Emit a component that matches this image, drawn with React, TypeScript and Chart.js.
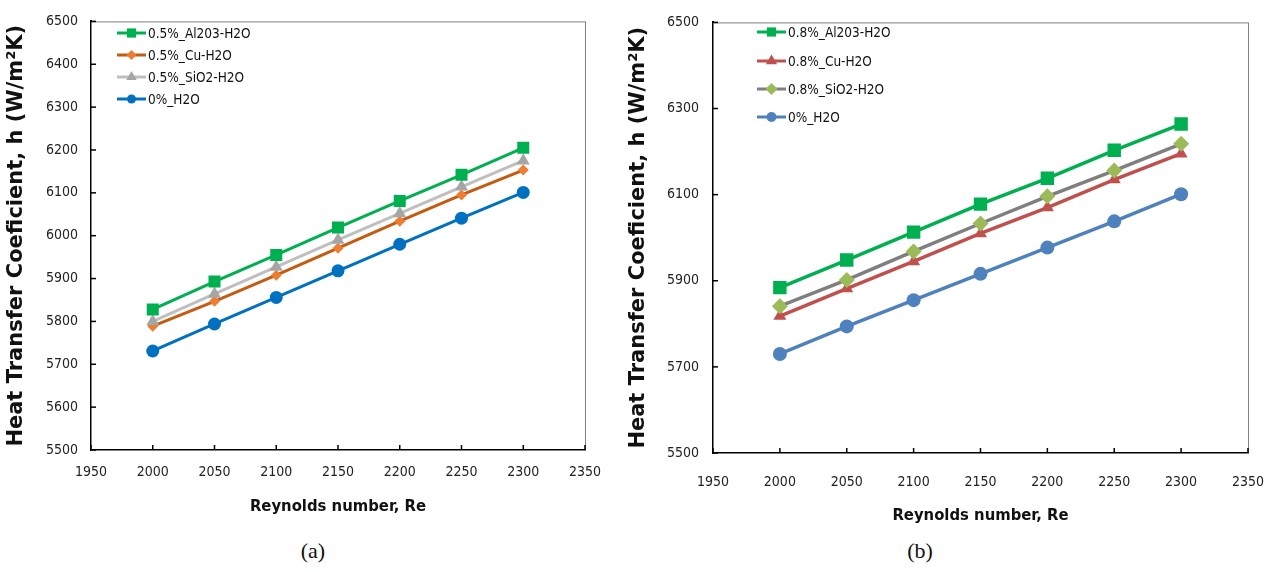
import React, { useEffect, useRef } from 'react';
import { Chart, registerables } from 'chart.js';

Chart.register(...registerables);

const reynolds = [2000, 2050, 2100, 2150, 2200, 2250, 2300];

const leftAl2O3 = [5828, 5893, 5955, 6019, 6081, 6142, 6205];
const leftCu = [5789, 5847, 5908, 5971, 6034, 6095, 6153];
const leftSiO2 = [5800, 5864, 5927, 5990, 6052, 6114, 6175];
const leftWater = [5731, 5794, 5856, 5918, 5980, 6041, 6101];

const rightAl2O3 = [5884, 5948, 6013, 6078, 6138, 6203, 6264];
const rightCu = [5818, 5882, 5945, 6010, 6070, 6135, 6195];
const rightSiO2 = [5841, 5902, 5968, 6033, 6096, 6156, 6218];
const rightWater = [5730, 5794, 5855, 5916, 5977, 6038, 6101];

const leftLabels = ['0.5%_Al203-H2O', '0.5%_Cu-H2O', '0.5%_SiO2-H2O', '0%_H2O'];
const rightLabels = ['0.8%_Al203-H2O', '0.8%_Cu-H2O', '0.8%_SiO2-H2O', '0%_H2O'];

const xTitle = 'Reynolds number, Re';
const yTitle = 'Heat Transfer Coeficient, h (W/m²K)';

const NARROW = "'Liberation Sans Narrow', 'DejaVu Sans Condensed', 'Roboto', sans-serif";
const WIDE = "'DejaVu Sans', 'Verdana', sans-serif";

type Style = {
  label: string;
  line: string;
  marker: string;
  shape: string;
  r: number;
  lr: number;
  order: number;
};

function drawMarker(ctx: CanvasRenderingContext2D, shape: string, x: number, y: number, r: number, color: string) {
  ctx.save();
  ctx.fillStyle = color;
  ctx.beginPath();
  if (shape === 'rect') {
    const s = r * Math.SQRT1_2;
    ctx.rect(x - s, y - s, 2 * s, 2 * s);
  } else if (shape === 'rectRot') {
    ctx.moveTo(x - r, y);
    ctx.lineTo(x, y - r);
    ctx.lineTo(x + r, y);
    ctx.lineTo(x, y + r);
    ctx.closePath();
  } else if (shape === 'triangle') {
    ctx.moveTo(x, y - r);
    ctx.lineTo(x + r * 0.866, y + r * 0.5);
    ctx.lineTo(x - r * 0.866, y + r * 0.5);
    ctx.closePath();
  } else {
    ctx.arc(x, y, r, 0, Math.PI * 2);
  }
  ctx.fill();
  ctx.restore();
}

const framePlugin = {
  id: 'frameLegend',
  beforeDatasetsDraw(chart: any, _args: any, opts: any) {
    const { ctx, chartArea: a } = chart;
    ctx.save();
    ctx.strokeStyle = '#808080';
    ctx.lineWidth = 1;
    ctx.strokeRect(a.left + 0.5, a.top + 0.5, a.right - a.left, a.bottom - a.top);
    ctx.strokeStyle = '#000';
    ctx.lineWidth = 1.5;
    const xs = chart.scales.x;
    const ys = chart.scales.y;
    xs.ticks.forEach((t: any) => {
      const px = xs.getPixelForValue(t.value);
      ctx.beginPath();
      ctx.moveTo(px, a.bottom);
      ctx.lineTo(px, a.bottom - 5);
      ctx.stroke();
    });
    ys.ticks.forEach((t: any) => {
      const py = ys.getPixelForValue(t.value);
      ctx.beginPath();
      ctx.moveTo(a.left, py);
      ctx.lineTo(a.left + 5, py);
      ctx.stroke();
    });
    ctx.restore();
  },
  afterDraw(chart: any, _args: any, opts: any) {
    const { ctx } = chart;
    const styles: Style[] = opts.styles;
    ctx.save();
    ctx.font = `13.5px ${NARROW}`;
    ctx.textBaseline = 'middle';
    ctx.textAlign = 'left';
    styles.forEach((s, i) => {
      const y = opts.ys[i];
      ctx.strokeStyle = s.line;
      ctx.lineWidth = 3;
      ctx.beginPath();
      ctx.moveTo(opts.x0, y);
      ctx.lineTo(opts.x1, y);
      ctx.stroke();
      drawMarker(ctx, s.shape, (opts.x0 + opts.x1) / 2, y, s.lr, s.marker);
      ctx.fillStyle = '#111';
      ctx.fillText(s.label, opts.x1 + 2, y + 1);
    });
    ctx.restore();
  },
};

type PanelCfg = {
  width: number;
  height: number;
  area: { left: number; right: number; top: number; bottom: number };
  yStep: number;
  series: number[][];
  styles: Style[];
  lineWidth: number;
  legend: { x0: number; x1: number; ys: number[] };
  yTickPad: number;
  xTickPad: number;
  xTitlePad: number;
  yTitlePad: number;
};

function Panel({ cfg, left }: { cfg: PanelCfg; left: number }) {
  const ref = useRef<HTMLCanvasElement | null>(null);
  useEffect(() => {
    if (!ref.current) return;
    const { area } = cfg;
    const chart = new Chart(ref.current, {
      type: 'line',
      data: {
        datasets: cfg.series.map((vals, i) => ({
          label: cfg.styles[i].label,
          data: reynolds.map((x, j) => ({ x, y: vals[j] })),
          borderColor: cfg.styles[i].line,
          backgroundColor: cfg.styles[i].marker,
          pointBackgroundColor: cfg.styles[i].marker,
          pointBorderColor: cfg.styles[i].marker,
          pointBorderWidth: 0,
          pointStyle: cfg.styles[i].shape as any,
          pointRadius: cfg.styles[i].r,
          borderWidth: cfg.lineWidth,
          tension: 0,
          fill: false,
          order: cfg.styles[i].order,
        })),
      },
      options: {
        responsive: false,
        animation: false,
        devicePixelRatio: 1,
        layout: {
          padding: { left: 0, top: area.top, right: cfg.width - area.right, bottom: 0 },
        },
        plugins: {
          legend: { display: false },
          tooltip: { enabled: false },
          frameLegend: { styles: cfg.styles, ...cfg.legend },
        } as any,
        scales: {
          x: {
            type: 'linear',
            min: 1950,
            max: 2350,
            ticks: {
              stepSize: 50,
              color: '#222',
              font: { family: NARROW, size: 14 },
              padding: cfg.xTickPad,
              maxRotation: 0,
              callback: (v: any) => String(v),
            },
            grid: { display: false, drawTicks: false, tickLength: 0 },
            border: { display: true, color: '#000', width: 2 },
            title: {
              display: true,
              text: xTitle,
              color: '#111',
              font: { family: NARROW, size: 16.5, weight: 'bold' },
              padding: { top: 0, bottom: cfg.xTitlePad },
            },
            afterFit: (s: any) => {
              s.height = cfg.height - area.bottom;
            },
          },
          y: {
            type: 'linear',
            min: 5500,
            max: 6500,
            ticks: {
              stepSize: cfg.yStep,
              color: '#222',
              font: { family: NARROW, size: 14 },
              padding: cfg.yTickPad,
              callback: (v: any) => String(v),
            },
            grid: { display: false, drawTicks: false, tickLength: 0 },
            border: { display: true, color: '#000', width: 2 },
            title: {
              display: true,
              text: yTitle,
              color: '#111',
              font: { family: WIDE, size: 21, weight: 'bold' },
              padding: { top: cfg.yTitlePad, bottom: 0 },
            },
            afterFit: (s: any) => {
              s.width = area.left;
            },
          },
        } as any,
      },
      plugins: [framePlugin as any],
    });
    return () => chart.destroy();
  }, [cfg]);
  return (
    <canvas
      ref={ref}
      width={cfg.width}
      height={cfg.height}
      style={{ position: 'absolute', left, top: 0, width: cfg.width, height: cfg.height }}
    />
  );
}

const leftCfg: PanelCfg = {
  width: 620,
  height: 530,
  area: { left: 91, right: 585, top: 15, bottom: 450 },
  yStep: 100,
  series: [leftAl2O3, leftCu, leftSiO2, leftWater],
  styles: [
    { label: leftLabels[0], line: '#00B050', marker: '#00B050', shape: 'rect', r: 8.5, lr: 6.5, order: 0 },
    { label: leftLabels[1], line: '#C55A11', marker: '#ED7D31', shape: 'rectRot', r: 5.5, lr: 5, order: 2 },
    { label: leftLabels[2], line: '#BFBFBF', marker: '#A5A5A5', shape: 'triangle', r: 7.5, lr: 6, order: 1 },
    { label: leftLabels[3], line: '#0070C0', marker: '#0070C0', shape: 'circle', r: 6.5, lr: 4.5, order: 3 },
  ],
  lineWidth: 3,
  legend: { x0: 117, x1: 146, ys: [33, 55, 77, 99] },
  yTickPad: 13,
  xTickPad: 14,
  xTitlePad: 13,
  yTitlePad: 4,
};

const rightCfg: PanelCfg = {
  width: 665,
  height: 530,
  area: { left: 93, right: 639, top: 12, bottom: 453 },
  yStep: 200,
  series: [rightAl2O3, rightCu, rightSiO2, rightWater],
  styles: [
    { label: rightLabels[0], line: '#00B050', marker: '#00B050', shape: 'rect', r: 9.5, lr: 6.5, order: 0 },
    { label: rightLabels[1], line: '#C0504D', marker: '#C0504D', shape: 'triangle', r: 7.5, lr: 6.5, order: 2 },
    { label: rightLabels[2], line: '#7F7F7F', marker: '#9BBB59', shape: 'rectRot', r: 8, lr: 6, order: 1 },
    { label: rightLabels[3], line: '#4F81BD', marker: '#4F81BD', shape: 'circle', r: 7, lr: 5, order: 3 },
  ],
  lineWidth: 3.5,
  legend: { x0: 137, x1: 166, ys: [32, 61, 89, 117] },
  yTickPad: 14,
  xTickPad: 21,
  xTitlePad: 4,
  yTitlePad: 6,
};

const captionStyle: React.CSSProperties = {
  position: 'absolute',
  top: 537,
  width: 60,
  textAlign: 'center',
  fontFamily: "'Liberation Serif', 'DejaVu Serif', serif",
  fontSize: 22,
  lineHeight: '28px',
  color: '#111',
};

export default function App() {
  return (
    <div style={{ position: 'absolute', left: 0, top: 0, width: 1285, height: 572, background: '#fff', overflow: 'hidden' }}>
      <Panel cfg={leftCfg} left={0} />
      <Panel cfg={rightCfg} left={620} />
      <div style={{ ...captionStyle, left: 313 - 30 }}>(a)</div>
      <div style={{ ...captionStyle, left: 920 - 30 }}>(b)</div>
    </div>
  );
}
